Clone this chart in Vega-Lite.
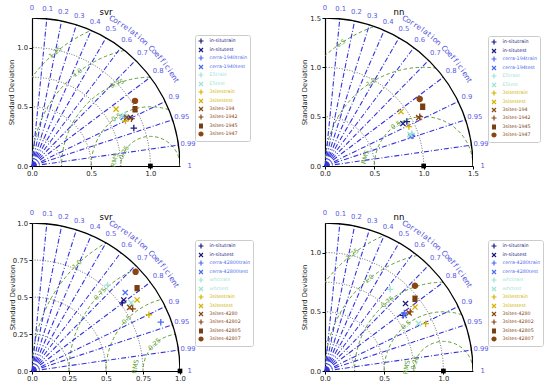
{
"$schema": "https://vega.github.io/schema/vega-lite/v6.json",
"background": "white",
"padding": {"left": 8, "top": 5, "right": 0, "bottom": 0},
"columns": 2,
"spacing": {"row": 57, "column": 145},
"bounds": "flush",
"config": {
 "view": {"stroke": null},
 "font": "DejaVu Sans",
 "style": {"guide-label": {"fontSize": 4.8}},
 "axis": {"domainColor": "#000000", "domainWidth": 1.2, "tickColor": "#000000", "tickSize": 3, "tickWidth": 1, "labelFontSize": 6.8, "labelColor": "#222222", "titleFontSize": 6.8, "titleFontWeight": "normal", "titleColor": "#222222", "grid": false, "labelPadding": 1.5, "titlePadding": 2, "labelFlush": false, "labelOverlap": false, "zindex": 1},
 "title": {"fontSize": 8.5, "fontWeight": "normal", "color": "#000000", "offset": -11, "frame": "group", "font": "DejaVu Sans"},
 "legend": {"labelFont": "DejaVu Sans", "symbolSize": 25}
},
"resolve": {"scale": {"color": "independent", "shape": "independent", "size": "independent"}, "legend": {"color": "independent", "shape": "independent"}},
"datasets": {
 "rays": [{"k":1,"cx":0,"cy":0},{"k":1,"cx":0.1,"cy":0.995},{"k":2,"cx":0,"cy":0},{"k":2,"cx":0.2,"cy":0.9798},{"k":3,"cx":0,"cy":0},{"k":3,"cx":0.3,"cy":0.9539},{"k":4,"cx":0,"cy":0},{"k":4,"cx":0.4,"cy":0.9165},{"k":5,"cx":0,"cy":0},{"k":5,"cx":0.5,"cy":0.866},{"k":6,"cx":0,"cy":0},{"k":6,"cx":0.6,"cy":0.8},{"k":7,"cx":0,"cy":0},{"k":7,"cx":0.7,"cy":0.7141},{"k":8,"cx":0,"cy":0},{"k":8,"cx":0.8,"cy":0.6},{"k":9,"cx":0,"cy":0},{"k":9,"cx":0.9,"cy":0.4359},{"k":10,"cx":0,"cy":0},{"k":10,"cx":0.95,"cy":0.3122},{"k":11,"cx":0,"cy":0},{"k":11,"cx":0.99,"cy":0.1411}],
 "corrlab": [{"t":"0","cx":0,"cy":1.065},{"t":"0.1","cx":0.1065,"cy":1.0597},{"t":"0.2","cx":0.213,"cy":1.0435},{"t":"0.3","cx":0.3195,"cy":1.0159},{"t":"0.4","cx":0.426,"cy":0.9761},{"t":"0.5","cx":0.5325,"cy":0.9223},{"t":"0.6","cx":0.639,"cy":0.852},{"t":"0.7","cx":0.7455,"cy":0.7606},{"t":"0.8","cx":0.852,"cy":0.639},{"t":"0.9","cx":0.9585,"cy":0.4642},{"t":"0.95","cx":1.0118,"cy":0.3325},{"t":"0.99","cx":1.0544,"cy":0.1502},{"t":"1","cx":1.065,"cy":0}],
 "letters": [{"ch":"C","cx":0.5392,"cy":0.993,"ang":61.5},{"ch":"o","cx":0.5634,"cy":0.9795,"ang":60.09},{"ch":"r","cx":0.5874,"cy":0.9654,"ang":58.68},{"ch":"r","cx":0.6109,"cy":0.9506,"ang":57.27},{"ch":"e","cx":0.6342,"cy":0.9352,"ang":55.86},{"ch":"l","cx":0.6569,"cy":0.9195,"ang":54.46},{"ch":"a","cx":0.6792,"cy":0.903,"ang":53.05},{"ch":"t","cx":0.7013,"cy":0.886,"ang":51.64},{"ch":"i","cx":0.7229,"cy":0.8685,"ang":50.23},{"ch":"o","cx":0.744,"cy":0.8504,"ang":48.82},{"ch":"n","cx":0.7647,"cy":0.8319,"ang":47.41},{"ch":"C","cx":0.8047,"cy":0.7933,"ang":44.59},{"ch":"o","cx":0.824,"cy":0.7733,"ang":43.18},{"ch":"e","cx":0.8428,"cy":0.7527,"ang":41.77},{"ch":"f","cx":0.8608,"cy":0.7319,"ang":40.37},{"ch":"f","cx":0.8786,"cy":0.7105,"ang":38.96},{"ch":"i","cx":0.8959,"cy":0.6886,"ang":37.55},{"ch":"c","cx":0.9125,"cy":0.6665,"ang":36.14},{"ch":"i","cx":0.9286,"cy":0.6438,"ang":34.73},{"ch":"e","cx":0.9442,"cy":0.6207,"ang":33.32},{"ch":"n","cx":0.9591,"cy":0.5973,"ang":31.91},{"ch":"t","cx":0.9736,"cy":0.5735,"ang":30.5}]
},
"concat": [
{
 "width": 148, "height": 148,
 "title": {"text": "svr"},
 "resolve": {"scale": {"x": "independent", "y": "independent"}},
 "layer": [
  {"data": {"values": [{"x":0,"y":0,"r":0.25},{"x":0,"y":0,"r":0.5},{"x":0,"y":0,"r":0.75},{"x":0,"y":0,"r":1.0}]},
   "mark": {"type":"point","shape":"circle","filled":false,"stroke":"#555555","strokeWidth":0.9,"strokeDash":[1,1.6],"opacity":1,"clip":true},
   "encoding": {
    "x": {"field":"x","type":"quantitative","scale":{"domain":[0,1.25],"nice":false},"axis":{"values":[0,0.5,1],"format":".1f","title":null}},
    "y": {"field":"y","type":"quantitative","scale":{"domain":[0,1.25],"nice":false},"axis":{"values":[0,0.5,1],"format":".1f","title":"Standard Deviation"}},
    "size": {"field":"r","type":"quantitative","scale":{"type":"pow","exponent":2,"domain":[0,1.25],"range":[0,87616]},"legend":null}}},
  {"data": {"values": [{"x":1,"y":0,"r":0.25},{"x":1,"y":0,"r":0.5},{"x":1,"y":0,"r":0.75},{"x":1,"y":0,"r":1.0},{"x":1,"y":0,"r":1.25}]},
   "mark": {"type":"point","shape":"circle","filled":false,"stroke":"#5f9f35","strokeWidth":1,"strokeDash":[3.5,2.5],"opacity":1,"clip":true},
   "encoding": {
    "x": {"field":"x","type":"quantitative","scale":{"domain":[0,1.25],"nice":false},"axis":null},
    "y": {"field":"y","type":"quantitative","scale":{"domain":[0,1.25],"nice":false},"axis":null},
    "size": {"field":"r","type":"quantitative","scale":{"type":"pow","exponent":2,"domain":[0,1.25],"range":[0,87616]},"legend":null}}},
  {"data": {"values": [{"x":0,"y":0,"r":1.875}]},
   "mark": {"type":"point","shape":"circle","filled":false,"stroke":"white","strokeWidth":148,"opacity":1,"clip":true},
   "encoding": {
    "x": {"field":"x","type":"quantitative","scale":{"domain":[0,1.25],"nice":false},"axis":null},
    "y": {"field":"y","type":"quantitative","scale":{"domain":[0,1.25],"nice":false},"axis":null},
    "size": {"field":"r","type":"quantitative","scale":{"type":"pow","exponent":2,"domain":[0,1.25],"range":[0,87616]},"legend":null}}},
  {"data": {"name":"rays"},
   "mark": {"type":"line","stroke":"#3434dd","strokeWidth":1.1,"strokeDash":[5,2,1,2]},
   "encoding": {
    "x": {"field":"cx","type":"quantitative","scale":{"domain":[0,1],"nice":false},"axis":null},
    "y": {"field":"cy","type":"quantitative","scale":{"domain":[0,1],"nice":false},"axis":null},
    "detail": {"field":"k","type":"nominal"}}},
  {"data": {"values": [{"x":0,"y":0,"r":1.25}]},
   "mark": {"type":"point","shape":"circle","filled":false,"stroke":"#000000","strokeWidth":1.3,"opacity":1,"clip":true},
   "encoding": {
    "x": {"field":"x","type":"quantitative","scale":{"domain":[0,1.25],"nice":false},"axis":null},
    "y": {"field":"y","type":"quantitative","scale":{"domain":[0,1.25],"nice":false},"axis":null},
    "size": {"field":"r","type":"quantitative","scale":{"type":"pow","exponent":2,"domain":[0,1.25],"range":[0,87616]},"legend":null}}},
  {"data": {"name":"corrlab"},
   "mark": {"type":"text","color":"#5a5ae6","fontSize":6.8,"font":"DejaVu Sans"},
   "encoding": {
    "x": {"field":"cx","type":"quantitative","scale":{"domain":[0,1],"nice":false},"axis":null},
    "y": {"field":"cy","type":"quantitative","scale":{"domain":[0,1],"nice":false},"axis":null},
    "text": {"field":"t","type":"nominal"}}},
  {"data": {"name":"letters"},
   "mark": {"type":"text","color":"#5050e0","fontSize":7.5,"font":"DejaVu Sans"},
   "encoding": {
    "x": {"field":"cx","type":"quantitative","scale":{"domain":[0,1],"nice":false},"axis":null},
    "y": {"field":"cy","type":"quantitative","scale":{"domain":[0,1],"nice":false},"axis":null},
    "text": {"field":"ch","type":"nominal"},
    "angle": {"field":"ang","type":"quantitative","scale":{"domain":[0,180],"range":[90,-90]}}}},
  {"data": {"values": [{"t":"0.25","x":0.777,"y":0.114,"ang":153},{"t":"0.5","x":0.713,"y":0.41,"ang":125},{"t":"0.75","x":0.719,"y":0.695,"ang":112},{"t":"1.0","x":0.384,"y":0.788,"ang":128},{"t":"1.25","x":0.197,"y":0.958,"ang":130},{"t":"RMS","x":0.7,"y":0.05,"ang":168}]},
   "mark": {"type":"text","color":"#5f9f35","fontSize":6.5,"font":"DejaVu Sans"},
   "encoding": {
    "x": {"field":"x","type":"quantitative","scale":{"domain":[0,1.25],"nice":false},"axis":null},
    "y": {"field":"y","type":"quantitative","scale":{"domain":[0,1.25],"nice":false},"axis":null},
    "text": {"field":"t","type":"nominal"},
    "angle": {"field":"ang","type":"quantitative","scale":{"domain":[0,180],"range":[90,-90]}}}},
  {"data": {"values": [{"x":1,"y":0}]},
   "mark": {"type":"point","shape":"square","filled":true,"color":"#000000","size":22,"opacity":1},
   "encoding": {
    "x": {"field":"x","type":"quantitative","scale":{"domain":[0,1.25],"nice":false},"axis":null},
    "y": {"field":"y","type":"quantitative","scale":{"domain":[0,1.25],"nice":false},"axis":null}}},
  {"data": {"values": [
    {"label":"in-situtrain","x":0.86,"y":0.32},{"label":"in-situtest","x":0.83,"y":0.41},{"label":"cerra-1940train","x":0.79,"y":0.41},{"label":"cerra-1940test","x":0.77,"y":0.41},{"label":"E5train","x":0.79,"y":0.43},{"label":"E5test","x":0.76,"y":0.42},{"label":"3sitestrain","x":0.79,"y":0.38},{"label":"3sitestest","x":0.71,"y":0.48},{"label":"3sites-194","x":0.8,"y":0.41},{"label":"3sites-1942","x":0.84,"y":0.4},{"label":"3sites-1945","x":0.87,"y":0.48},{"label":"3sites-1947","x":0.87,"y":0.55}]},
   "mark": {"type":"point","filled":false,"size":42,"strokeWidth":1.3,"opacity":1},
   "encoding": {
    "x": {"field":"x","type":"quantitative","scale":{"domain":[0,1.25],"nice":false},"axis":null},
    "y": {"field":"y","type":"quantitative","scale":{"domain":[0,1.25],"nice":false},"axis":null},
    "color": {"field":"label","type":"nominal","scale":{"domain":["in-situtrain","in-situtest","cerra-1940train","cerra-1940test","E5train","E5test","3sitestrain","3sitestest","3sites-194","3sites-1942","3sites-1945","3sites-1947"],"range":["#191980","#191980","#4b6cf0","#4b6cf0","#9fe3d8","#9fe3d8","#d2b400","#d2b400","#8b4513","#8b4513","#7a3e12","#8b4513"]},
     "legend":{"title":null,"orient":"none","legendX":163,"legendY":17,"labelFontSize":4.8,"symbolSize":25,"symbolStrokeWidth":1.2,"rowPadding":-3.6,"padding":2.5,"strokeColor":"#cccccc","fillColor":"white","cornerRadius":2,"labelOffset":5,"labelLimit":120,
      "labelColor":{"expr":"['#191980','#191980','#4b6cf0','#4b6cf0','#9fe3d8','#9fe3d8','#d2b400','#d2b400','#8b4513','#8b4513','#7a3e12','#8b4513'][indexof(['in-situtrain','in-situtest','cerra-1940train','cerra-1940test','E5train','E5test','3sitestrain','3sitestest','3sites-194','3sites-1942','3sites-1945','3sites-1947'], datum.value)]"}}},
    "shape": {"field":"label","type":"nominal","scale":{"domain":["in-situtrain","in-situtest","cerra-1940train","cerra-1940test","E5train","E5test","3sitestrain","3sitestest","3sites-194","3sites-1942","3sites-1945","3sites-1947"],"range":["M-1,0L1,0M0,-1L0,1","M-0.8,-0.8L0.8,0.8M-0.8,0.8L0.8,-0.8","M-1,0L1,0M0,-1L0,1","M-0.8,-0.8L0.8,0.8M-0.8,0.8L0.8,-0.8","M-1,0L1,0M0,-1L0,1","M-0.8,-0.8L0.8,0.8M-0.8,0.8L0.8,-0.8","M-1,0L1,0M0,-1L0,1","M-0.8,-0.8L0.8,0.8M-0.8,0.8L0.8,-0.8","M-0.8,-0.8L0.8,0.8M-0.8,0.8L0.8,-0.8","M-1,0L1,0M0,-1L0,1","M-0.8,-0.8L0.8,-0.8M-0.8,-0.4L0.8,-0.4M-0.8,0L0.8,0M-0.8,0.4L0.8,0.4M-0.8,0.8L0.8,0.8","M0.8,0A0.8,0.8,0,1,1,-0.8,0A0.8,0.8,0,1,1,0.8,0M-0.8,0L0.8,0M-0.6,-0.4L0.6,-0.4M-0.6,0.4L0.6,0.4"]}}}}
 ]
},
{
 "width": 148, "height": 148,
 "title": {"text": "nn"},
 "resolve": {"scale": {"x": "independent", "y": "independent"}},
 "layer": [
  {"data": {"values": [{"x":0,"y":0,"r":0.5},{"x":0,"y":0,"r":1.0}]},
   "mark": {"type":"point","shape":"circle","filled":false,"stroke":"#555555","strokeWidth":0.9,"strokeDash":[1,1.6],"opacity":1,"clip":true},
   "encoding": {
    "x": {"field":"x","type":"quantitative","scale":{"domain":[0,1.5],"nice":false},"axis":{"values":[0,0.5,1,1.5],"format":".1f","title":null}},
    "y": {"field":"y","type":"quantitative","scale":{"domain":[0,1.5],"nice":false},"axis":{"values":[0,0.5,1,1.5],"format":".1f","title":"Standard Deviation"}},
    "size": {"field":"r","type":"quantitative","scale":{"type":"pow","exponent":2,"domain":[0,1.5],"range":[0,87616]},"legend":null}}},
  {"data": {"values": [{"x":1,"y":0,"r":0.5},{"x":1,"y":0,"r":1.0},{"x":1,"y":0,"r":1.5}]},
   "mark": {"type":"point","shape":"circle","filled":false,"stroke":"#5f9f35","strokeWidth":1,"strokeDash":[3.5,2.5],"opacity":1,"clip":true},
   "encoding": {
    "x": {"field":"x","type":"quantitative","scale":{"domain":[0,1.5],"nice":false},"axis":null},
    "y": {"field":"y","type":"quantitative","scale":{"domain":[0,1.5],"nice":false},"axis":null},
    "size": {"field":"r","type":"quantitative","scale":{"type":"pow","exponent":2,"domain":[0,1.5],"range":[0,87616]},"legend":null}}},
  {"data": {"values": [{"x":0,"y":0,"r":2.25}]},
   "mark": {"type":"point","shape":"circle","filled":false,"stroke":"white","strokeWidth":148,"opacity":1,"clip":true},
   "encoding": {
    "x": {"field":"x","type":"quantitative","scale":{"domain":[0,1.5],"nice":false},"axis":null},
    "y": {"field":"y","type":"quantitative","scale":{"domain":[0,1.5],"nice":false},"axis":null},
    "size": {"field":"r","type":"quantitative","scale":{"type":"pow","exponent":2,"domain":[0,1.5],"range":[0,87616]},"legend":null}}},
  {"data": {"name":"rays"},
   "mark": {"type":"line","stroke":"#3434dd","strokeWidth":1.1,"strokeDash":[5,2,1,2]},
   "encoding": {
    "x": {"field":"cx","type":"quantitative","scale":{"domain":[0,1],"nice":false},"axis":null},
    "y": {"field":"cy","type":"quantitative","scale":{"domain":[0,1],"nice":false},"axis":null},
    "detail": {"field":"k","type":"nominal"}}},
  {"data": {"values": [{"x":0,"y":0,"r":1.5}]},
   "mark": {"type":"point","shape":"circle","filled":false,"stroke":"#000000","strokeWidth":1.3,"opacity":1,"clip":true},
   "encoding": {
    "x": {"field":"x","type":"quantitative","scale":{"domain":[0,1.5],"nice":false},"axis":null},
    "y": {"field":"y","type":"quantitative","scale":{"domain":[0,1.5],"nice":false},"axis":null},
    "size": {"field":"r","type":"quantitative","scale":{"type":"pow","exponent":2,"domain":[0,1.5],"range":[0,87616]},"legend":null}}},
  {"data": {"name":"corrlab"},
   "mark": {"type":"text","color":"#5a5ae6","fontSize":6.8,"font":"DejaVu Sans"},
   "encoding": {
    "x": {"field":"cx","type":"quantitative","scale":{"domain":[0,1],"nice":false},"axis":null},
    "y": {"field":"cy","type":"quantitative","scale":{"domain":[0,1],"nice":false},"axis":null},
    "text": {"field":"t","type":"nominal"}}},
  {"data": {"name":"letters"},
   "mark": {"type":"text","color":"#5050e0","fontSize":7.5,"font":"DejaVu Sans"},
   "encoding": {
    "x": {"field":"cx","type":"quantitative","scale":{"domain":[0,1],"nice":false},"axis":null},
    "y": {"field":"cy","type":"quantitative","scale":{"domain":[0,1],"nice":false},"axis":null},
    "text": {"field":"ch","type":"nominal"},
    "angle": {"field":"ang","type":"quantitative","scale":{"domain":[0,180],"range":[90,-90]}}}},
  {"data": {"values": [{"t":"0.5","x":0.72,"y":0.4145,"ang":124},{"t":"1.0","x":0.47,"y":0.848,"ang":122},{"t":"1.5","x":0.161,"y":1.2435,"ang":124},{"t":"RMS","x":0.41,"y":0.09,"ang":165}]},
   "mark": {"type":"text","color":"#5f9f35","fontSize":6.5,"font":"DejaVu Sans"},
   "encoding": {
    "x": {"field":"x","type":"quantitative","scale":{"domain":[0,1.5],"nice":false},"axis":null},
    "y": {"field":"y","type":"quantitative","scale":{"domain":[0,1.5],"nice":false},"axis":null},
    "text": {"field":"t","type":"nominal"},
    "angle": {"field":"ang","type":"quantitative","scale":{"domain":[0,180],"range":[90,-90]}}}},
  {"data": {"values": [{"x":1,"y":0}]},
   "mark": {"type":"point","shape":"square","filled":true,"color":"#000000","size":22,"opacity":1},
   "encoding": {
    "x": {"field":"x","type":"quantitative","scale":{"domain":[0,1.5],"nice":false},"axis":null},
    "y": {"field":"y","type":"quantitative","scale":{"domain":[0,1.5],"nice":false},"axis":null}}},
  {"data": {"values": [
    {"label":"in-situtrain","x":0.83,"y":0.45},{"label":"in-situtest","x":0.79,"y":0.43},{"label":"cerra-194train","x":0.88,"y":0.31},{"label":"cerra-194test","x":0.87,"y":0.3},{"label":"E5train","x":0.88,"y":0.33},{"label":"E5test","x":0.86,"y":0.32},{"label":"3sitestrain","x":0.85,"y":0.4},{"label":"3sitestest","x":0.77,"y":0.55},{"label":"3sites-194","x":0.95,"y":0.49},{"label":"3sites-1942","x":0.96,"y":0.5},{"label":"3sites-1945","x":0.99,"y":0.6},{"label":"3sites-1947","x":0.96,"y":0.68}]},
   "mark": {"type":"point","filled":false,"size":42,"strokeWidth":1.3,"opacity":1},
   "encoding": {
    "x": {"field":"x","type":"quantitative","scale":{"domain":[0,1.5],"nice":false},"axis":null},
    "y": {"field":"y","type":"quantitative","scale":{"domain":[0,1.5],"nice":false},"axis":null},
    "color": {"field":"label","type":"nominal","scale":{"domain":["in-situtrain","in-situtest","cerra-194train","cerra-194test","E5train","E5test","3sitestrain","3sitestest","3sites-194","3sites-1942","3sites-1945","3sites-1947"],"range":["#191980","#191980","#4b6cf0","#4b6cf0","#9fe3d8","#9fe3d8","#d2b400","#d2b400","#8b4513","#8b4513","#7a3e12","#8b4513"]},
     "legend":{"title":null,"orient":"none","legendX":163,"legendY":18,"labelFontSize":4.8,"symbolSize":25,"symbolStrokeWidth":1.2,"rowPadding":-3.6,"padding":2.5,"strokeColor":"#cccccc","fillColor":"white","cornerRadius":2,"labelOffset":5,"labelLimit":120,
      "labelColor":{"expr":"['#191980','#191980','#4b6cf0','#4b6cf0','#9fe3d8','#9fe3d8','#d2b400','#d2b400','#8b4513','#8b4513','#7a3e12','#8b4513'][indexof(['in-situtrain','in-situtest','cerra-194train','cerra-194test','E5train','E5test','3sitestrain','3sitestest','3sites-194','3sites-1942','3sites-1945','3sites-1947'], datum.value)]"}}},
    "shape": {"field":"label","type":"nominal","scale":{"domain":["in-situtrain","in-situtest","cerra-194train","cerra-194test","E5train","E5test","3sitestrain","3sitestest","3sites-194","3sites-1942","3sites-1945","3sites-1947"],"range":["M-1,0L1,0M0,-1L0,1","M-0.8,-0.8L0.8,0.8M-0.8,0.8L0.8,-0.8","M-1,0L1,0M0,-1L0,1","M-0.8,-0.8L0.8,0.8M-0.8,0.8L0.8,-0.8","M-1,0L1,0M0,-1L0,1","M-0.8,-0.8L0.8,0.8M-0.8,0.8L0.8,-0.8","M-1,0L1,0M0,-1L0,1","M-0.8,-0.8L0.8,0.8M-0.8,0.8L0.8,-0.8","M-0.8,-0.8L0.8,0.8M-0.8,0.8L0.8,-0.8","M-1,0L1,0M0,-1L0,1","M-0.8,-0.8L0.8,-0.8M-0.8,-0.4L0.8,-0.4M-0.8,0L0.8,0M-0.8,0.4L0.8,0.4M-0.8,0.8L0.8,0.8","M0.8,0A0.8,0.8,0,1,1,-0.8,0A0.8,0.8,0,1,1,0.8,0M-0.8,0L0.8,0M-0.6,-0.4L0.6,-0.4M-0.6,0.4L0.6,0.4"]}}}}
 ]
},
{
 "width": 148, "height": 148,
 "title": {"text": "svr"},
 "resolve": {"scale": {"x": "independent", "y": "independent"}},
 "layer": [
  {"data": {"values": [{"x":0,"y":0,"r":0.25},{"x":0,"y":0,"r":0.5},{"x":0,"y":0,"r":0.75}]},
   "mark": {"type":"point","shape":"circle","filled":false,"stroke":"#555555","strokeWidth":0.9,"strokeDash":[1,1.6],"opacity":1,"clip":true},
   "encoding": {
    "x": {"field":"x","type":"quantitative","scale":{"domain":[0,1],"nice":false},"axis":{"values":[0,0.25,0.5,0.75,1],"labelExpr":"datum.value == 0 ? '0.0' : datum.value == 1 ? '1.0' : format(datum.value, '.2~f')","title":null}},
    "y": {"field":"y","type":"quantitative","scale":{"domain":[0,1],"nice":false},"axis":{"values":[0,0.25,0.5,0.75,1],"labelExpr":"datum.value == 0 ? '0.0' : datum.value == 1 ? '1.0' : format(datum.value, '.2~f')","title":"Standard Deviation","titlePadding":-3}},
    "size": {"field":"r","type":"quantitative","scale":{"type":"pow","exponent":2,"domain":[0,1],"range":[0,87616]},"legend":null}}},
  {"data": {"values": [{"x":1,"y":0,"r":0.25},{"x":1,"y":0,"r":0.5},{"x":1,"y":0,"r":0.75},{"x":1,"y":0,"r":1.0}]},
   "mark": {"type":"point","shape":"circle","filled":false,"stroke":"#5f9f35","strokeWidth":1,"strokeDash":[3.5,2.5],"opacity":1,"clip":true},
   "encoding": {
    "x": {"field":"x","type":"quantitative","scale":{"domain":[0,1],"nice":false},"axis":null},
    "y": {"field":"y","type":"quantitative","scale":{"domain":[0,1],"nice":false},"axis":null},
    "size": {"field":"r","type":"quantitative","scale":{"type":"pow","exponent":2,"domain":[0,1],"range":[0,87616]},"legend":null}}},
  {"data": {"values": [{"x":0,"y":0,"r":1.5}]},
   "mark": {"type":"point","shape":"circle","filled":false,"stroke":"white","strokeWidth":148,"opacity":1,"clip":true},
   "encoding": {
    "x": {"field":"x","type":"quantitative","scale":{"domain":[0,1],"nice":false},"axis":null},
    "y": {"field":"y","type":"quantitative","scale":{"domain":[0,1],"nice":false},"axis":null},
    "size": {"field":"r","type":"quantitative","scale":{"type":"pow","exponent":2,"domain":[0,1],"range":[0,87616]},"legend":null}}},
  {"data": {"name":"rays"},
   "mark": {"type":"line","stroke":"#3434dd","strokeWidth":1.1,"strokeDash":[5,2,1,2]},
   "encoding": {
    "x": {"field":"cx","type":"quantitative","scale":{"domain":[0,1],"nice":false},"axis":null},
    "y": {"field":"cy","type":"quantitative","scale":{"domain":[0,1],"nice":false},"axis":null},
    "detail": {"field":"k","type":"nominal"}}},
  {"data": {"values": [{"x":0,"y":0,"r":1.0}]},
   "mark": {"type":"point","shape":"circle","filled":false,"stroke":"#000000","strokeWidth":1.3,"opacity":1,"clip":true},
   "encoding": {
    "x": {"field":"x","type":"quantitative","scale":{"domain":[0,1],"nice":false},"axis":null},
    "y": {"field":"y","type":"quantitative","scale":{"domain":[0,1],"nice":false},"axis":null},
    "size": {"field":"r","type":"quantitative","scale":{"type":"pow","exponent":2,"domain":[0,1],"range":[0,87616]},"legend":null}}},
  {"data": {"name":"corrlab"},
   "mark": {"type":"text","color":"#5a5ae6","fontSize":6.8,"font":"DejaVu Sans"},
   "encoding": {
    "x": {"field":"cx","type":"quantitative","scale":{"domain":[0,1],"nice":false},"axis":null},
    "y": {"field":"cy","type":"quantitative","scale":{"domain":[0,1],"nice":false},"axis":null},
    "text": {"field":"t","type":"nominal"}}},
  {"data": {"name":"letters"},
   "mark": {"type":"text","color":"#5050e0","fontSize":7.5,"font":"DejaVu Sans"},
   "encoding": {
    "x": {"field":"cx","type":"quantitative","scale":{"domain":[0,1],"nice":false},"axis":null},
    "y": {"field":"cy","type":"quantitative","scale":{"domain":[0,1],"nice":false},"axis":null},
    "text": {"field":"ch","type":"nominal"},
    "angle": {"field":"ang","type":"quantitative","scale":{"domain":[0,180],"range":[90,-90]}}}},
  {"data": {"values": [{"t":"0.25","x":0.828,"y":0.181,"ang":133.5},{"t":"0.5","x":0.64,"y":0.347,"ang":136},{"t":"0.75","x":0.4605,"y":0.521,"ang":136},{"t":"1.0","x":0.305,"y":0.719,"ang":134},{"t":"RMS","x":0.7,"y":0.03,"ang":170}]},
   "mark": {"type":"text","color":"#5f9f35","fontSize":6.5,"font":"DejaVu Sans"},
   "encoding": {
    "x": {"field":"x","type":"quantitative","scale":{"domain":[0,1],"nice":false},"axis":null},
    "y": {"field":"y","type":"quantitative","scale":{"domain":[0,1],"nice":false},"axis":null},
    "text": {"field":"t","type":"nominal"},
    "angle": {"field":"ang","type":"quantitative","scale":{"domain":[0,180],"range":[90,-90]}}}},
  {"data": {"values": [{"x":1,"y":0}]},
   "mark": {"type":"point","shape":"square","filled":true,"color":"#000000","size":22,"opacity":1},
   "encoding": {
    "x": {"field":"x","type":"quantitative","scale":{"domain":[0,1],"nice":false},"axis":null},
    "y": {"field":"y","type":"quantitative","scale":{"domain":[0,1],"nice":false},"axis":null}}},
  {"data": {"values": [
    {"label":"in-situtrain","x":0.61,"y":0.46},{"label":"in-situtest","x":0.62,"y":0.48},{"label":"cerra-42800train","x":0.87,"y":0.33},{"label":"cerra-42800test","x":0.63,"y":0.53},{"label":"whctrain","x":0.51,"y":0.58},{"label":"whctest","x":0.67,"y":0.46},{"label":"3sitestrain","x":0.79,"y":0.38},{"label":"3sitestest","x":0.71,"y":0.48},{"label":"3sites-4280","x":0.66,"y":0.43},{"label":"3sites-42802","x":0.68,"y":0.42},{"label":"3sites-42805","x":0.71,"y":0.56},{"label":"3sites-42807","x":0.7,"y":0.67}]},
   "mark": {"type":"point","filled":false,"size":42,"strokeWidth":1.3,"opacity":1},
   "encoding": {
    "x": {"field":"x","type":"quantitative","scale":{"domain":[0,1],"nice":false},"axis":null},
    "y": {"field":"y","type":"quantitative","scale":{"domain":[0,1],"nice":false},"axis":null},
    "color": {"field":"label","type":"nominal","scale":{"domain":["in-situtrain","in-situtest","cerra-42800train","cerra-42800test","whctrain","whctest","3sitestrain","3sitestest","3sites-4280","3sites-42802","3sites-42805","3sites-42807"],"range":["#191980","#191980","#4b6cf0","#4b6cf0","#9fe3d8","#9fe3d8","#d2b400","#d2b400","#8b4513","#8b4513","#7a3e12","#8b4513"]},
     "legend":{"title":null,"orient":"none","legendX":163,"legendY":17,"labelFontSize":4.8,"symbolSize":25,"symbolStrokeWidth":1.2,"rowPadding":-3.6,"padding":2.5,"strokeColor":"#cccccc","fillColor":"white","cornerRadius":2,"labelOffset":5,"labelLimit":120,
      "labelColor":{"expr":"['#191980','#191980','#4b6cf0','#4b6cf0','#9fe3d8','#9fe3d8','#d2b400','#d2b400','#8b4513','#8b4513','#7a3e12','#8b4513'][indexof(['in-situtrain','in-situtest','cerra-42800train','cerra-42800test','whctrain','whctest','3sitestrain','3sitestest','3sites-4280','3sites-42802','3sites-42805','3sites-42807'], datum.value)]"}}},
    "shape": {"field":"label","type":"nominal","scale":{"domain":["in-situtrain","in-situtest","cerra-42800train","cerra-42800test","whctrain","whctest","3sitestrain","3sitestest","3sites-4280","3sites-42802","3sites-42805","3sites-42807"],"range":["M-1,0L1,0M0,-1L0,1","M-0.8,-0.8L0.8,0.8M-0.8,0.8L0.8,-0.8","M-1,0L1,0M0,-1L0,1","M-0.8,-0.8L0.8,0.8M-0.8,0.8L0.8,-0.8","M-1,0L1,0M0,-1L0,1","M-0.8,-0.8L0.8,0.8M-0.8,0.8L0.8,-0.8","M-1,0L1,0M0,-1L0,1","M-0.8,-0.8L0.8,0.8M-0.8,0.8L0.8,-0.8","M-0.8,-0.8L0.8,0.8M-0.8,0.8L0.8,-0.8","M-1,0L1,0M0,-1L0,1","M-0.8,-0.8L0.8,-0.8M-0.8,-0.4L0.8,-0.4M-0.8,0L0.8,0M-0.8,0.4L0.8,0.4M-0.8,0.8L0.8,0.8","M0.8,0A0.8,0.8,0,1,1,-0.8,0A0.8,0.8,0,1,1,0.8,0M-0.8,0L0.8,0M-0.6,-0.4L0.6,-0.4M-0.6,0.4L0.6,0.4"]}}}}
 ]
},
{
 "width": 148, "height": 148,
 "title": {"text": "nn"},
 "resolve": {"scale": {"x": "independent", "y": "independent"}},
 "layer": [
  {"data": {"values": [{"x":0,"y":0,"r":0.25},{"x":0,"y":0,"r":0.5},{"x":0,"y":0,"r":0.75},{"x":0,"y":0,"r":1.0}]},
   "mark": {"type":"point","shape":"circle","filled":false,"stroke":"#555555","strokeWidth":0.9,"strokeDash":[1,1.6],"opacity":1,"clip":true},
   "encoding": {
    "x": {"field":"x","type":"quantitative","scale":{"domain":[0,1.25],"nice":false},"axis":{"values":[0,0.5,1],"format":".1f","title":null}},
    "y": {"field":"y","type":"quantitative","scale":{"domain":[0,1.25],"nice":false},"axis":{"values":[0,0.5,1],"format":".1f","title":"Standard Deviation"}},
    "size": {"field":"r","type":"quantitative","scale":{"type":"pow","exponent":2,"domain":[0,1.25],"range":[0,87616]},"legend":null}}},
  {"data": {"values": [{"x":1,"y":0,"r":0.25},{"x":1,"y":0,"r":0.5},{"x":1,"y":0,"r":0.75},{"x":1,"y":0,"r":1.0},{"x":1,"y":0,"r":1.25}]},
   "mark": {"type":"point","shape":"circle","filled":false,"stroke":"#5f9f35","strokeWidth":1,"strokeDash":[3.5,2.5],"opacity":1,"clip":true},
   "encoding": {
    "x": {"field":"x","type":"quantitative","scale":{"domain":[0,1.25],"nice":false},"axis":null},
    "y": {"field":"y","type":"quantitative","scale":{"domain":[0,1.25],"nice":false},"axis":null},
    "size": {"field":"r","type":"quantitative","scale":{"type":"pow","exponent":2,"domain":[0,1.25],"range":[0,87616]},"legend":null}}},
  {"data": {"values": [{"x":0,"y":0,"r":1.875}]},
   "mark": {"type":"point","shape":"circle","filled":false,"stroke":"white","strokeWidth":148,"opacity":1,"clip":true},
   "encoding": {
    "x": {"field":"x","type":"quantitative","scale":{"domain":[0,1.25],"nice":false},"axis":null},
    "y": {"field":"y","type":"quantitative","scale":{"domain":[0,1.25],"nice":false},"axis":null},
    "size": {"field":"r","type":"quantitative","scale":{"type":"pow","exponent":2,"domain":[0,1.25],"range":[0,87616]},"legend":null}}},
  {"data": {"name":"rays"},
   "mark": {"type":"line","stroke":"#3434dd","strokeWidth":1.1,"strokeDash":[5,2,1,2]},
   "encoding": {
    "x": {"field":"cx","type":"quantitative","scale":{"domain":[0,1],"nice":false},"axis":null},
    "y": {"field":"cy","type":"quantitative","scale":{"domain":[0,1],"nice":false},"axis":null},
    "detail": {"field":"k","type":"nominal"}}},
  {"data": {"values": [{"x":0,"y":0,"r":1.25}]},
   "mark": {"type":"point","shape":"circle","filled":false,"stroke":"#000000","strokeWidth":1.3,"opacity":1,"clip":true},
   "encoding": {
    "x": {"field":"x","type":"quantitative","scale":{"domain":[0,1.25],"nice":false},"axis":null},
    "y": {"field":"y","type":"quantitative","scale":{"domain":[0,1.25],"nice":false},"axis":null},
    "size": {"field":"r","type":"quantitative","scale":{"type":"pow","exponent":2,"domain":[0,1.25],"range":[0,87616]},"legend":null}}},
  {"data": {"name":"corrlab"},
   "mark": {"type":"text","color":"#5a5ae6","fontSize":6.8,"font":"DejaVu Sans"},
   "encoding": {
    "x": {"field":"cx","type":"quantitative","scale":{"domain":[0,1],"nice":false},"axis":null},
    "y": {"field":"cy","type":"quantitative","scale":{"domain":[0,1],"nice":false},"axis":null},
    "text": {"field":"t","type":"nominal"}}},
  {"data": {"name":"letters"},
   "mark": {"type":"text","color":"#5050e0","fontSize":7.5,"font":"DejaVu Sans"},
   "encoding": {
    "x": {"field":"cx","type":"quantitative","scale":{"domain":[0,1],"nice":false},"axis":null},
    "y": {"field":"cy","type":"quantitative","scale":{"domain":[0,1],"nice":false},"axis":null},
    "text": {"field":"ch","type":"nominal"},
    "angle": {"field":"ang","type":"quantitative","scale":{"domain":[0,180],"range":[90,-90]}}}},
  {"data": {"values": [{"t":"0.25","x":0.76,"y":0.069,"ang":164},{"t":"0.5","x":0.685,"y":0.389,"ang":129},{"t":"0.75","x":0.528,"y":0.583,"ang":129},{"t":"1.0","x":0.371,"y":0.777,"ang":129},{"t":"1.25","x":0.23,"y":0.985,"ang":128},{"t":"RMS","x":0.69,"y":0.03,"ang":170}]},
   "mark": {"type":"text","color":"#5f9f35","fontSize":6.5,"font":"DejaVu Sans"},
   "encoding": {
    "x": {"field":"x","type":"quantitative","scale":{"domain":[0,1.25],"nice":false},"axis":null},
    "y": {"field":"y","type":"quantitative","scale":{"domain":[0,1.25],"nice":false},"axis":null},
    "text": {"field":"t","type":"nominal"},
    "angle": {"field":"ang","type":"quantitative","scale":{"domain":[0,180],"range":[90,-90]}}}},
  {"data": {"values": [{"x":1,"y":0}]},
   "mark": {"type":"point","shape":"square","filled":true,"color":"#000000","size":22,"opacity":1},
   "encoding": {
    "x": {"field":"x","type":"quantitative","scale":{"domain":[0,1.25],"nice":false},"axis":null},
    "y": {"field":"y","type":"quantitative","scale":{"domain":[0,1.25],"nice":false},"axis":null}}},
  {"data": {"values": [
    {"label":"in-situtrain","x":0.66,"y":0.47},{"label":"in-situtest","x":0.68,"y":0.57},{"label":"cerra-4280train","x":0.67,"y":0.49},{"label":"cerra-4280test","x":0.67,"y":0.47},{"label":"whctrain","x":0.55,"y":0.69},{"label":"whctest","x":0.79,"y":0.4},{"label":"3sitestrain","x":0.85,"y":0.4},{"label":"3sitestest","x":0.76,"y":0.54},{"label":"3sites-4280","x":0.71,"y":0.49},{"label":"3sites-42802","x":0.72,"y":0.5},{"label":"3sites-42805","x":0.76,"y":0.61},{"label":"3sites-42807","x":0.76,"y":0.72}]},
   "mark": {"type":"point","filled":false,"size":42,"strokeWidth":1.3,"opacity":1},
   "encoding": {
    "x": {"field":"x","type":"quantitative","scale":{"domain":[0,1.25],"nice":false},"axis":null},
    "y": {"field":"y","type":"quantitative","scale":{"domain":[0,1.25],"nice":false},"axis":null},
    "color": {"field":"label","type":"nominal","scale":{"domain":["in-situtrain","in-situtest","cerra-4280train","cerra-4280test","whctrain","whctest","3sitestrain","3sitestest","3sites-4280","3sites-42802","3sites-42805","3sites-42807"],"range":["#191980","#191980","#4b6cf0","#4b6cf0","#9fe3d8","#9fe3d8","#d2b400","#d2b400","#8b4513","#8b4513","#7a3e12","#8b4513"]},
     "legend":{"title":null,"orient":"none","legendX":163,"legendY":17,"labelFontSize":4.8,"symbolSize":25,"symbolStrokeWidth":1.2,"rowPadding":-3.6,"padding":2.5,"strokeColor":"#cccccc","fillColor":"white","cornerRadius":2,"labelOffset":5,"labelLimit":120,
      "labelColor":{"expr":"['#191980','#191980','#4b6cf0','#4b6cf0','#9fe3d8','#9fe3d8','#d2b400','#d2b400','#8b4513','#8b4513','#7a3e12','#8b4513'][indexof(['in-situtrain','in-situtest','cerra-4280train','cerra-4280test','whctrain','whctest','3sitestrain','3sitestest','3sites-4280','3sites-42802','3sites-42805','3sites-42807'], datum.value)]"}}},
    "shape": {"field":"label","type":"nominal","scale":{"domain":["in-situtrain","in-situtest","cerra-4280train","cerra-4280test","whctrain","whctest","3sitestrain","3sitestest","3sites-4280","3sites-42802","3sites-42805","3sites-42807"],"range":["M-1,0L1,0M0,-1L0,1","M-0.8,-0.8L0.8,0.8M-0.8,0.8L0.8,-0.8","M-1,0L1,0M0,-1L0,1","M-0.8,-0.8L0.8,0.8M-0.8,0.8L0.8,-0.8","M-1,0L1,0M0,-1L0,1","M-0.8,-0.8L0.8,0.8M-0.8,0.8L0.8,-0.8","M-1,0L1,0M0,-1L0,1","M-0.8,-0.8L0.8,0.8M-0.8,0.8L0.8,-0.8","M-0.8,-0.8L0.8,0.8M-0.8,0.8L0.8,-0.8","M-1,0L1,0M0,-1L0,1","M-0.8,-0.8L0.8,-0.8M-0.8,-0.4L0.8,-0.4M-0.8,0L0.8,0M-0.8,0.4L0.8,0.4M-0.8,0.8L0.8,0.8","M0.8,0A0.8,0.8,0,1,1,-0.8,0A0.8,0.8,0,1,1,0.8,0M-0.8,0L0.8,0M-0.6,-0.4L0.6,-0.4M-0.6,0.4L0.6,0.4"]}}}}
 ]
}
]
}
